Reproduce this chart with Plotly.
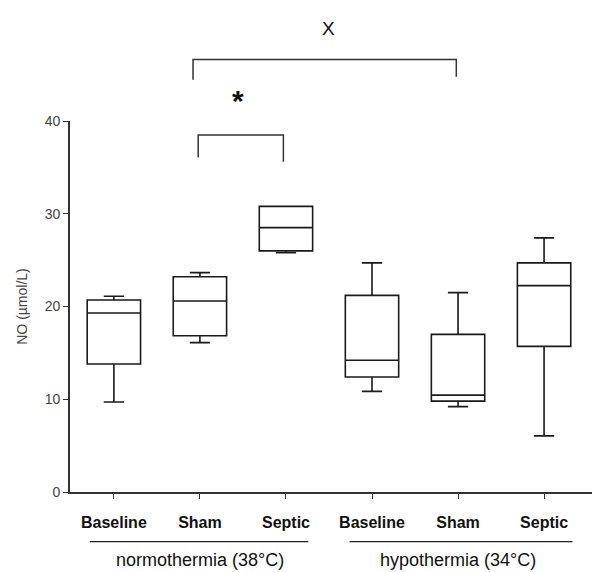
import plotly.graph_objects as go

# --- data ---
positions = [0, 1, 2, 3, 4, 5]
tick_labels = ["Baseline", "Sham", "Septic", "Baseline", "Sham", "Septic"]
groups = ["normothermia (38°C)", "hypothermia (34°C)"]
group_centers = [1, 4]
group_spans = [(-0.28, 2.26), (2.74, 5.33)]

lower_whisker = [9.7, 16.1, 25.8, 10.85, 9.2, 6.05]
q1_values = [13.8, 16.85, 26.0, 12.4, 9.8, 15.7]
median_values = [19.3, 20.6, 28.5, 14.2, 10.45, 22.25]
q3_values = [20.7, 23.2, 30.8, 21.2, 17.0, 24.7]
upper_whisker = [21.1, 23.65, 30.8, 24.7, 21.5, 27.4]

y_ticks = [0, 10, 20, 30, 40]

FONT = "Liberation Sans, Arial, sans-serif"

fig = go.Figure()
fig.add_trace(go.Box(
    x=positions,
    q1=q1_values,
    median=median_values,
    q3=q3_values,
    lowerfence=lower_whisker,
    upperfence=upper_whisker,
    width=0.62,
    whiskerwidth=0.38,
    fillcolor="white",
    line=dict(color="#1a1a1a", width=1.6),
    showlegend=False,
    hoverinfo="skip",
))

shapes = []
# group underlines
for (a, b) in group_spans:
    shapes.append(dict(type="line", xref="x", yref="paper", x0=a, x1=b,
                       y0=-0.134, y1=-0.134, line=dict(color="#222", width=1.3)))
# large bracket (normothermia Sham vs hypothermia Sham)
shapes.append(dict(type="path", xref="x", yref="paper",
                   path="M 0.92,1.111 L 0.92,1.166 L 3.98,1.166 L 3.98,1.119",
                   line=dict(color="#333", width=1.5)))
# small bracket (Sham vs Septic)
shapes.append(dict(type="path", xref="x", yref="y",
                   path="M 0.98,36.1 L 0.98,38.5 L 1.97,38.5 L 1.97,35.6",
                   line=dict(color="#333", width=1.5)))

annotations = []
for g, c in zip(groups, group_centers):
    annotations.append(dict(text=g, x=c, y=-0.151, xref="x", yref="paper",
                            showarrow=False, font=dict(size=18, color="#111", family=FONT),
                            xanchor="center", yanchor="top"))
annotations.append(dict(text="X", x=2.49, y=1.25, xref="x", yref="paper", showarrow=False,
                        yanchor="middle",
                        font=dict(size=19, color="#111", family=FONT)))
annotations.append(dict(text="<b>*</b>", x=1.44, y=1.054, xref="x", yref="paper", showarrow=False,
                        yanchor="middle",
                        font=dict(size=30, color="#111", family=FONT)))

# the page body adds an 8px margin; the figure size/margins compensate for it
fig.update_layout(
    template="none",
    width=592, height=564,
    margin=dict(l=62, r=0, t=113, b=80, autoexpand=False),
    plot_bgcolor="white", paper_bgcolor="white",
    font=dict(family=FONT),
    shapes=shapes,
    annotations=annotations,
    xaxis=dict(
        range=[-0.51, 5.65], automargin=False,
        tickmode="array", tickvals=positions,
        ticktext=["<b>%s</b>" % t for t in tick_labels],
        tickfont=dict(size=16, color="#111", family=FONT),
        ticks="outside", ticklen=5, tickcolor="#333", tickwidth=1.3,
        ticklabelstandoff=10,
        showline=True, linecolor="#333", linewidth=1.6,
        showgrid=False, zeroline=False, fixedrange=True,
    ),
    yaxis=dict(
        range=[0, 40], automargin=False,
        tickmode="array", tickvals=y_ticks,
        tickfont=dict(size=14, color="#444", family=FONT),
        ticks="outside", ticklen=5, tickcolor="#333", tickwidth=1.3,
        showline=True, linecolor="#333", linewidth=1.6,
        showgrid=False, zeroline=False, fixedrange=True,
        title=dict(text="NO (µmol/L)", font=dict(size=14, color="#444", family=FONT), standoff=14),
    ),
)

fig.write_html("out.html")
